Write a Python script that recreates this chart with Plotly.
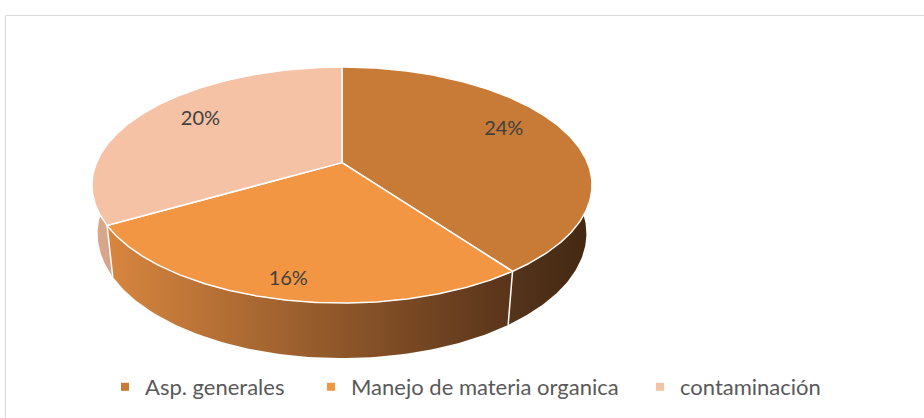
import numpy as np
import plotly.graph_objects as go

# ---- data ----
categories = ["Asp. generales", "Manejo de materia organica", "contaminación"]
values = [24, 16, 20]
label_texts = [f"{v}%" for v in values]

# ---- style ----
top_colors = ["#C87A37", "#F39644", "#F5C2A6"]
side_scales = [
    [[0, "#55341B"], [1, "#432812"]],
    [[0, "#D8863F"], [1, "#58341A"]],
    [[0, "#D9A88D"], [1, "#D7A48A"]],
]
label_r = [0.76, 0.88, 0.74]
label_dtheta_deg = [5.5, 0.0, -3.0]

# ---- projection of a 3D disk (perspective) ----
ALPHA = np.deg2rad(27.6)
CA, SA = np.cos(ALPHA), np.sin(ALPHA)
D, F = 4.66, 1144.0
CX, CY = 342.0, 162.6
H = 0.225


def proj(theta, r=1.0, Y=0.0):
    X = r * np.cos(theta)
    Z = r * np.sin(theta)
    yc = Y * CA + Z * SA
    zc = D + Z * CA - Y * SA
    return CX + F * X / zc, CY - F * yc / zc


total = sum(values)
fracs = np.array(values) / total
starts = np.pi / 2 - 2 * np.pi * np.concatenate([[0], np.cumsum(fracs)[:-1]])
ends = starts - 2 * np.pi * fracs

fig = go.Figure()

# side walls (visible front half: theta in [-pi, 0])
for i in range(len(values)):
    a0, a1 = starts[i], ends[i]
    lo, hi = min(a0, a1), max(a0, a1)
    segs = []
    for shift in (0, -2 * np.pi, 2 * np.pi):
        l2, h2 = max(lo + shift, -np.pi), min(hi + shift, 0.0)
        if h2 > l2:
            segs.append((h2, l2))
    for (s, e) in segs:
        th = np.linspace(s, e, 80)
        xt, yt = proj(th, 1.0, 0.0)
        xb, yb = proj(th[::-1], 1.0, -H)
        fig.add_trace(go.Scatter(
            x=np.concatenate([xt, xb, xt[:1]]), y=np.concatenate([yt, yb, yt[:1]]),
            mode="lines", line=dict(width=0), fill="toself",
            fillgradient=dict(type="horizontal", colorscale=side_scales[i]),
            hoverinfo="skip", showlegend=False))

# vertical white edges on the wall at slice boundaries
for i in range(len(values)):
    b = ends[i]
    bb = (b + np.pi) % (2 * np.pi) - np.pi
    if -np.pi < bb < 0:
        x0, y0 = proj(bb, 1.0, 0.0)
        x1, y1 = proj(bb, 1.0, -H)
        fig.add_trace(go.Scatter(x=[x0, x1], y=[y0, y1], mode="lines",
                                 line=dict(color="white", width=1.5),
                                 hoverinfo="skip", showlegend=False))

# top faces
for i in range(len(values)):
    th = np.linspace(starts[i], ends[i], 200)
    xa, ya = proj(th)
    x = np.concatenate([[CX], xa, [CX]])
    y = np.concatenate([[CY], ya, [CY]])
    fig.add_trace(go.Scatter(x=x, y=y, mode="lines", fill="toself",
                             fillcolor=top_colors[i],
                             line=dict(color="white", width=1.5),
                             hoverinfo="skip", showlegend=False))

# data labels
mids = (starts + ends) / 2
lx, ly = [], []
for i in range(len(values)):
    px, py = proj(mids[i] + np.deg2rad(label_dtheta_deg[i]), label_r[i])
    lx.append(px)
    ly.append(py)
fig.add_trace(go.Scatter(x=lx, y=ly, mode="text", text=label_texts,
                         textfont=dict(family="Lato", size=20, color="#404040"),
                         hoverinfo="skip", showlegend=False))

# legend entries (one legend each so they can be placed like the original)
legend_names = ["legend", "legend2", "legend3"]
legend_x = [105 / 924, 311 / 924, 640 / 924]
for i, name in enumerate(categories):
    fig.add_trace(go.Scatter(x=[None], y=[None], mode="markers", name=name,
                             marker=dict(symbol="square", size=8, color=top_colors[i]),
                             legend=legend_names[i]))

layout_legends = {}
for i, ln in enumerate(legend_names):
    layout_legends[ln] = dict(x=legend_x[i], y=1 - 387 / 418, xanchor="left", yanchor="middle",
                              orientation="h", bgcolor="rgba(0,0,0,0)",
                              font=dict(family="Lato", size=22, color="#595959"),
                              itemwidth=30)

fig.update_layout(
    width=924, height=418,
    margin=dict(l=0, r=0, t=0, b=0),
    paper_bgcolor="white", plot_bgcolor="white",
    xaxis=dict(range=[0, 924], visible=False, fixedrange=True),
    yaxis=dict(range=[418, 0], visible=False, fixedrange=True),
    shapes=[dict(type="rect", xref="paper", yref="paper",
                 x0=5.5 / 924, y0=-0.01, x1=1.01, y1=1 - 15.5 / 418,
                 line=dict(color="#D9D9D9", width=1), fillcolor="rgba(0,0,0,0)")],
    **layout_legends,
)

fig.write_html("out.html", config={"displayModeBar": False},
               post_script="document.body.style.margin='0';")
